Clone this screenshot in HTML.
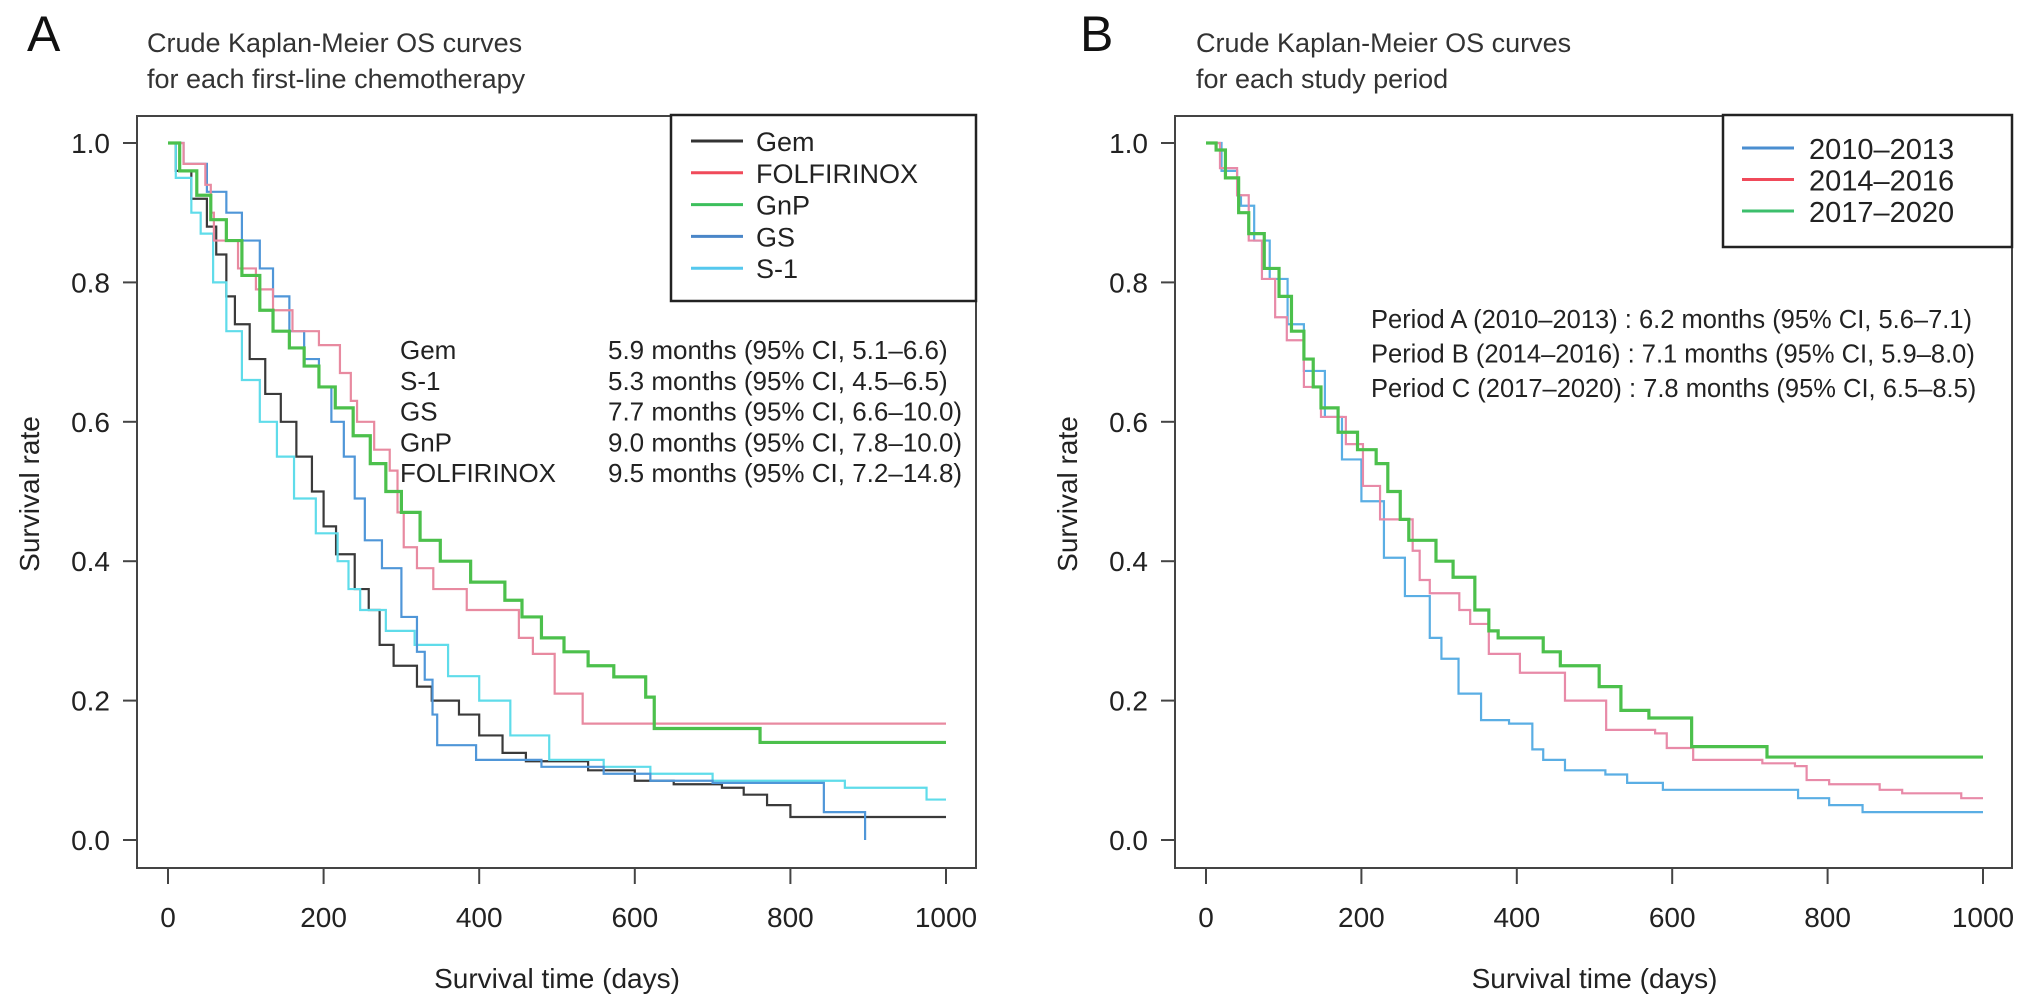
<!DOCTYPE html>
<html><head><meta charset="utf-8">
<style>
html,body{margin:0;padding:0;background:#fff;}
svg{display:block;font-family:"Liberation Sans",Arial,sans-serif;}
</style></head>
<body>
<svg id="fig" width="2032" height="1006" viewBox="0 0 2032 1006" xmlns="http://www.w3.org/2000/svg">
  <rect width="2032" height="1006" fill="#fff"/>
  <g id="panelA">
    <text x="27" y="51" font-size="50" fill="#111">A</text>
    <text x="147" y="52" font-size="27" fill="#333">Crude Kaplan-Meier OS curves</text>
    <text x="147" y="88" font-size="27" fill="#333">for each first-line chemotherapy</text>
  </g>
  <g id="panelB">
    <text x="1080" y="51" font-size="50" fill="#111">B</text>
    <text x="1196" y="52" font-size="27" fill="#333">Crude Kaplan-Meier OS curves</text>
    <text x="1196" y="88" font-size="27" fill="#333">for each study period</text>
  </g>
</svg>
<script>
// ---- Panel A data (day, survival) ----
const gemX = [0,10,30,50,62,75,86,105,125,145,165,185,200,216,240,258,272,290,320,339,374,400,430,460,540,600,650,712,740,770,800];
const gemY = [1,0.96,0.92,0.88,0.84,0.78,0.74,0.69,0.64,0.6,0.55,0.5,0.45,0.41,0.36,0.33,0.28,0.25,0.22,0.2,0.18,0.15,0.125,0.113,0.1,0.085,0.08,0.075,0.065,0.05,0.033];
const folX = [0,20,48,55,59,90,113,135,160,194,221,235,243,265,285,295,303,320,341,384,451,469,497,533];
const folY = [1,0.97,0.94,0.9,0.86,0.82,0.79,0.76,0.73,0.71,0.67,0.63,0.6,0.56,0.53,0.47,0.42,0.39,0.36,0.33,0.29,0.267,0.21,0.167];
const gnpX = [0,15,37,55,75,95,118,135,156,175,194,215,238,260,280,300,324,350,389,433,455,480,509,540,573,614,625,761];
const gnpY = [1,0.96,0.925,0.89,0.86,0.81,0.76,0.73,0.706,0.68,0.65,0.62,0.58,0.54,0.5,0.47,0.43,0.4,0.37,0.344,0.32,0.29,0.27,0.25,0.234,0.205,0.16,0.14];
const gsX = [0,20,50,75,95,118,135,156,175,194,210,226,240,253,275,300,320,330,340,346,396,480,560,620,700,843,896];
const gsY = [1,0.97,0.93,0.9,0.86,0.82,0.78,0.73,0.69,0.65,0.6,0.55,0.49,0.43,0.39,0.32,0.27,0.23,0.18,0.136,0.115,0.105,0.095,0.085,0.082,0.04,0];
const s1X = [0,10,30,42,58,75,95,118,140,162,190,218,232,247,280,317,360,400,440,490,560,620,700,870,975];
const s1Y = [1,0.95,0.9,0.87,0.8,0.73,0.66,0.6,0.55,0.49,0.44,0.4,0.36,0.33,0.3,0.28,0.235,0.2,0.15,0.115,0.105,0.095,0.085,0.075,0.058];
const aEnd = [1000,1000,1000,896,1000];
// ---- Panel B data ----
const p1X = [0,20,40,45,62,82,105,126,153,175,200,229,256,288,303,325,354,390,420,434,462,514,542,588,762,802,845];
const p1Y = [1,0.96,0.925,0.91,0.86,0.805,0.74,0.673,0.607,0.546,0.486,0.405,0.35,0.29,0.26,0.21,0.172,0.167,0.13,0.115,0.1,0.094,0.082,0.072,0.06,0.05,0.04];
const p2X = [0,18,40,55,72,89,104,126,148,180,202,224,266,275,288,326,340,364,404,462,515,578,593,627,716,758,773,802,867,896,972];
const p2Y = [1,0.964,0.925,0.86,0.805,0.75,0.717,0.65,0.607,0.568,0.508,0.46,0.415,0.373,0.354,0.33,0.31,0.267,0.24,0.2,0.158,0.153,0.132,0.115,0.11,0.106,0.086,0.08,0.072,0.067,0.06];
const p3X = [0,13,25,42,55,75,94,110,126,138,148,170,195,219,234,250,261,296,318,346,364,376,434,456,506,534,570,625,722];
const p3Y = [1,0.99,0.95,0.9,0.87,0.82,0.78,0.73,0.69,0.65,0.62,0.585,0.56,0.54,0.5,0.46,0.43,0.4,0.377,0.33,0.3,0.29,0.27,0.25,0.22,0.186,0.175,0.134,0.119];
const xTicks = [0,200,400,600,800,1000];
const yTicks = [0,0.2,0.4,0.6,0.8,1.0];
const yTickLabels = ["0.0","0.2","0.4","0.6","0.8","1.0"];
const aNames = ["Gem","FOLFIRINOX","GnP","GS","S-1"];
const bNames = ["2010–2013","2014–2016","2017–2020"];
const aStatNames = ["Gem","S-1","GS","GnP","FOLFIRINOX"];
const aStatVals = ["5.9 months (95% CI, 5.1–6.6)","5.3 months (95% CI, 4.5–6.5)","7.7 months (95% CI, 6.6–10.0)","9.0 months (95% CI, 7.8–10.0)","9.5 months (95% CI, 7.2–14.8)"];
const bStats = ["Period A (2010–2013) : 6.2 months (95% CI, 5.6–7.1)","Period B (2014–2016) : 7.1 months (95% CI, 5.9–8.0)","Period C (2017–2020) : 7.8 months (95% CI, 6.5–8.5)"];

const NS = "http://www.w3.org/2000/svg";
function mk(tag, attrs, parent){
  const e = document.createElementNS(NS, tag);
  for (const k in attrs) e.setAttribute(k, attrs[k]);
  parent.appendChild(e);
  return e;
}
function yScale(v){ return 840 - 697*v; }

function drawAxes(g, boxL, boxR, x0, x1, prefix){
  const xs = d => x0 + (x1-x0)*d/1000;
  const box = mk('rect',{x:boxL,y:116,width:boxR-boxL,height:752,fill:'none',stroke:'#444','stroke-width':2},g);
  
  
  xTicks.forEach(t=>{
    const l = mk('line',{x1:xs(t),x2:xs(t),y1:868,y2:884,stroke:'#444','stroke-width':2},g);
    
    
    const tx = mk('text',{x:xs(t),y:927,'font-size':28,'text-anchor':'middle',fill:'#222'},g);
    tx.textContent = t;
    
    
  });
  yTicks.forEach((t,i)=>{
    const l = mk('line',{x1:boxL-14,x2:boxL,y1:yScale(t),y2:yScale(t),stroke:'#444','stroke-width':2},g);
    
    
    const tx = mk('text',{x:boxL-27,y:yScale(t)+10,'font-size':28,'text-anchor':'end',fill:'#222'},g);
    tx.textContent = yTickLabels[i];
    
    
  });
  const xt = mk('text',{x:(x0+x1)/2,y:988,'font-size':28,'text-anchor':'middle',fill:'#222'},g);
  xt.textContent = 'Survival time (days)';
  
  
  const yx = boxL-98;
  const yt = mk('text',{x:yx,y:494,'font-size':28,'text-anchor':'middle',fill:'#222',transform:`rotate(-90 ${yx} 494)`},g);
  yt.textContent = 'Survival rate';
  
  
  return xs;
}
function drawCurve(g, xs, X, Y, end, color, w, name){
  let d = `M${xs(X[0])},${yScale(Y[0])}`;
  for(let i=1;i<X.length;i++){
    d += ` H${xs(X[i])} V${yScale(Y[i])}`;
  }
  if(end > X[X.length-1]) d += ` H${xs(end)}`;
  const p = mk('path',{d:d,fill:'none',stroke:color,'stroke-width':w},g);
  
  
}

// Panel A
const gA = document.getElementById('panelA');
const xsA = drawAxes(gA, 137, 976, 168, 946, 'panel-a');
const aSeries = [[gemX,gemY,'#3a3a3a',2.2,'curve-gem'],[s1X,s1Y,'#5fdcea',2.2,'curve-s1'],[gsX,gsY,'#4f96d8',2.2,'curve-gs'],[folX,folY,'#e88aa0',2.2,'curve-folfirinox'],[gnpX,gnpY,'#4cc04c',3.2,'curve-gnp']];
const aEndMap = {'curve-gem':1000,'curve-s1':1000,'curve-gs':896,'curve-folfirinox':1000,'curve-gnp':1000};
aSeries.forEach(s=>drawCurve(gA, xsA, s[0], s[1], aEndMap[s[4]], s[2], s[3], s[4]));
// GS final drop to 0
const legA = mk('g',{},gA);


mk('rect',{x:671,y:115,width:305,height:186,fill:'#fff',stroke:'#222','stroke-width':2.5},legA);
const aLegColors = ['#333','#f04a5a','#3cbf5c','#4a86c8','#55c8ee'];
aNames.forEach((n,i)=>{
  const y = 141 + i*31.8;
  const ln = mk('line',{x1:691,x2:743,y1:y,y2:y,stroke:aLegColors[i],'stroke-width':3},legA);
  
  
  const t = mk('text',{x:756,y:y+10,'font-size':27,fill:'#222'},legA);
  t.textContent = n;
  
  
});
aStatNames.forEach((n,i)=>{
  const y = 359 + i*30.8;
  const t1 = mk('text',{x:400,y:y,'font-size':26,fill:'#222'},gA);
  t1.textContent = n;
  
  
  const t2 = mk('text',{x:608,y:y,'font-size':26,fill:'#222'},gA);
  t2.textContent = aStatVals[i];
  
  
});

// Panel B
const gB = document.getElementById('panelB');
const xsB = drawAxes(gB, 1175, 2012, 1206, 1983, 'panel-b');
drawCurve(gB, xsB, p1X, p1Y, 1000, '#5aaee4', 2.2, 'curve-2010-2013');
drawCurve(gB, xsB, p2X, p2Y, 1000, '#e88aa8', 2.2, 'curve-2014-2016');
drawCurve(gB, xsB, p3X, p3Y, 1000, '#4cc04c', 3.2, 'curve-2017-2020');
const legB = mk('g',{},gB);


mk('rect',{x:1723,y:115,width:289,height:132,fill:'#fff',stroke:'#222','stroke-width':2.5},legB);
const bLegColors = ['#4a8ed0','#f04a5a','#3cbf6c'];
bNames.forEach((n,i)=>{
  const y = 148 + i*31.5;
  const ln = mk('line',{x1:1742,x2:1794,y1:y,y2:y,stroke:bLegColors[i],'stroke-width':3},legB);
  
  
  const t = mk('text',{x:1809,y:y+11,'font-size':29,fill:'#222'},legB);
  t.textContent = n;
  
  
});
bStats.forEach((s,i)=>{
  const t = mk('text',{x:1371,y:328+i*34.5,'font-size':25.5,fill:'#222'},gB);
  t.textContent = s;
  
  
});
</script>
</body></html>
